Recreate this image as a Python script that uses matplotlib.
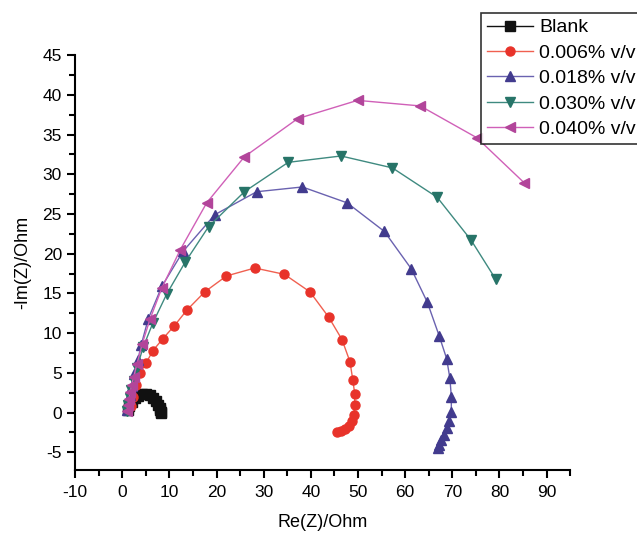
import numpy as np
from matplotlib import pyplot as plt
from matplotlib.ticker import MultipleLocator

plt.rcParams['font.family'] = ['Liberation Sans', 'DejaVu Sans']
plt.rcParams['axes.unicode_minus'] = False

# Nyquist data: Re(Z) / -Im(Z) in Ohm
blank_re = [1.2, 1.5, 2.0, 2.6, 3.3, 4.2, 5.0, 5.8, 6.5, 7.1, 7.6, 7.9, 8.1, 8.2, 8.3]
blank_im = [0.3, 0.8, 1.3, 1.8, 2.1, 2.3, 2.3, 2.2, 1.9, 1.5, 1.0, 0.6, 0.3, 0.1, 0.0]

c006_re = [1.8, 2.2, 2.8, 3.8, 5.1, 6.5, 8.6, 11.0, 13.7, 17.5, 22.1, 28.1, 34.4,
           39.8, 43.8, 46.6, 48.3, 48.9, 49.3, 49.3, 49.1, 48.7, 48.1, 47.3, 46.4, 45.6]
c006_im = [0.8, 2.0, 3.5, 5.0, 6.3, 7.8, 9.3, 10.9, 12.9, 15.2, 17.2, 18.2, 17.4,
           15.2, 12.0, 9.2, 6.4, 4.1, 2.4, 0.9, -0.3, -1.0, -1.7, -2.1, -2.3, -2.4]

c018_re = [1.1, 1.3, 1.6, 2.0, 2.5, 3.3, 4.0, 5.5, 8.4, 12.9, 19.6, 28.5, 38.2, 47.7,
           55.6, 61.3, 64.7, 67.2, 68.8, 69.5, 69.8, 69.8, 69.4, 68.9, 68.3, 67.7, 67.2, 66.9]
c018_im = [0.3, 1.2, 2.2, 3.3, 4.8, 6.6, 8.5, 11.8, 15.9, 20.3, 24.9, 27.8, 28.4, 26.4,
           22.8, 18.1, 13.9, 9.7, 6.8, 4.3, 2.0, 0.1, -1.1, -2.0, -2.8, -3.5, -4.1, -4.4]

c030_re = [1.1, 1.3, 1.6, 1.9, 2.4, 3.1, 4.4, 6.5, 9.4, 13.3, 18.3, 25.9, 35.2, 46.4,
           57.3, 66.8, 74.0, 79.2]
c030_im = [0.2, 1.0, 1.9, 2.9, 4.0, 5.6, 8.2, 11.3, 14.9, 18.9, 23.4, 27.8, 31.5, 32.3,
           30.8, 27.1, 21.7, 16.8]

c040_re = [1.0, 1.2, 1.4, 1.7, 2.0, 2.4, 3.1, 4.2, 5.9, 8.4, 12.3, 17.9, 25.9, 37.2,
           49.9, 63.2, 75.2, 85.3]
c040_im = [0.2, 0.9, 1.7, 2.6, 3.5, 4.5, 6.1, 8.6, 11.8, 15.7, 20.5, 26.4, 32.2, 37.0,
           39.3, 38.6, 34.6, 28.9]

labels = ['Blank', '0.006% v/v', '0.018% v/v', '0.030% v/v', '0.040% v/v']

fig = plt.figure(figsize=(6.37, 5.4), dpi=100)
ax = fig.add_axes([0.118, 0.130, 0.777, 0.768])

series = [
    (blank_re, blank_im, 's', '#111111', '#111111'),
    (c006_re, c006_im, 'o', '#e8332a', '#f06050'),
    (c018_re, c018_im, '^', '#423b8e', '#6a62b0'),
    (c030_re, c030_im, 'v', '#277468', '#3f8a80'),
    (c040_re, c040_im, '<', '#b2459a', '#d060b8'),
]
for (x, y, m, mc, lc), lab in zip(series, labels):
    ax.plot(x, y, color=lc, linewidth=1.0, marker=m, markersize=6.5,
            markerfacecolor=mc, markeredgecolor=mc, label=lab)

ax.set_xlim(-10, 95)
ax.set_ylim(-7.2, 45)
ax.xaxis.set_major_locator(MultipleLocator(10))
ax.xaxis.set_minor_locator(MultipleLocator(5))
ax.yaxis.set_major_locator(MultipleLocator(5))
ax.yaxis.set_minor_locator(MultipleLocator(2.5))
ax.spines['top'].set_visible(False)
ax.spines['right'].set_visible(False)
for s in ['left', 'bottom']:
    ax.spines[s].set_linewidth(1.5)
ax.tick_params(which='major', direction='out', length=6, width=1.5, labelsize=12.5)
ax.tick_params(which='minor', direction='out', length=4, width=1.5)
ax.tick_params(axis='x', which='major', pad=5)

ax.set_xlabel('Re(Z)/Ohm', fontsize=13, labelpad=10)
ax.set_ylabel('-Im(Z)/Ohm', fontsize=13, labelpad=8)

leg = fig.legend(loc='upper left', bbox_to_anchor=(481 / 637, 1 - 13 / 540),
                 fontsize=14, frameon=True, fancybox=False, edgecolor='black',
                 borderpad=0.3, handlelength=2.4, handletextpad=0.3,
                 labelspacing=0.4, borderaxespad=0)
leg.get_frame().set_linewidth(1.2)

plt.savefig('out.png', dpi=100)
